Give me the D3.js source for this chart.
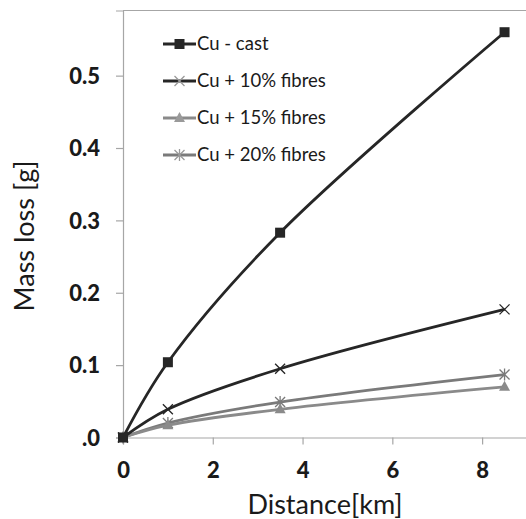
<!DOCTYPE html>
<html>
<head>
<meta charset="utf-8">
<script src="https://cdn.jsdelivr.net/npm/d3@7"></script>
<style>
body { margin: 0; background: #fff; }
text { font-family: Lato, "Open Sans", sans-serif; }
</style>
</head>
<body>
<script>
var w = 526;
var h = 519;

// distances [km]
var distance = [0, 1, 3.5, 8.5];

// mass loss [g] for each material
var seriesNames = ["Cu - cast", "Cu + 10% fibres", "Cu + 15% fibres", "Cu + 20% fibres"];
var cuCast = [0, 0.104, 0.283, 0.560];
var cu10 = [0, 0.039, 0.095, 0.177];
var cu15 = [0, 0.017, 0.039, 0.070];
var cu20 = [0, 0.020, 0.049, 0.087];

var xTicks = [0, 2, 4, 6, 8];
var yTicks = [0, 0.1, 0.2, 0.3, 0.4, 0.5];

var colors = ["#262626", "#262626", "#8a8a8a", "#7a7a7a"];
var markers = ["square", "cross", "triangle", "star"];

var svg = d3.select("body")
    .append("svg")
    .attr("width", w)
    .attr("height", h);

var x = d3.scaleLinear().domain([0, 9]).range([123, 527]);
var y = d3.scaleLinear().domain([0, 0.59]).range([437.5, 10.5]);

// plot frame
svg.append("path")
    .attr("d", "M" + x(0) + "," + y(0.59) + "H" + x(9) + "V" + y(0))
    .attr("fill", "none")
    .attr("stroke", "#a6a6a6")
    .attr("stroke-width", 1.2);

var yAxis = svg.append("g")
    .attr("transform", "translate(" + x(0) + ",0)")
    .call(d3.axisLeft(y).tickValues(yTicks).tickSize(7).tickPadding(16)
        .tickFormat(function(d){ return d === 0 ? ".0" : d3.format(".1f")(d); }));

var xAxis = svg.append("g")
    .attr("transform", "translate(0," + y(0) + ")")
    .call(d3.axisBottom(x).tickValues(xTicks).tickSize(7).tickPadding(18).tickFormat(d3.format("d")));

[xAxis, yAxis].forEach(function(g){
    g.select(".domain").attr("stroke", "#a6a6a6").attr("stroke-width", 1.2);
    g.selectAll(".tick line").attr("stroke", "#a6a6a6").attr("stroke-width", 1.2);
    g.selectAll(".tick text")
        .attr("fill", "#1a1a1a")
        .style("font-size", "22px")
        .style("font-weight", "900");
});
yAxis.selectAll(".tick text").attr("dy", "0.35em");

// axis titles
svg.append("text")
    .attr("x", 325)
    .attr("y", 514)
    .attr("text-anchor", "middle")
    .attr("fill", "#1a1a1a")
    .style("font-size", "27px")
    .text("Distance[km]");

svg.append("text")
    .attr("transform", "translate(34,236) rotate(-90)")
    .attr("text-anchor", "middle")
    .attr("fill", "#1a1a1a")
    .style("font-size", "27px")
    .text("Mass loss [g]");

var allSeries = [cuCast, cu10, cu15, cu20];

var line = d3.line()
    .x(function(d, i){ return x(distance[i]); })
    .y(function(d){ return y(d); })
    .curve(d3.curveCatmullRom.alpha(0.5));

function drawMarker(g, type, cx, cy, color) {
    if (type === "square") {
        g.append("rect").attr("x", cx - 5).attr("y", cy - 5).attr("width", 10).attr("height", 10)
            .attr("fill", color);
    } else if (type === "cross") {
        g.append("path").attr("d", "M" + (cx-5) + "," + (cy-5) + "L" + (cx+5) + "," + (cy+5) +
            "M" + (cx-5) + "," + (cy+5) + "L" + (cx+5) + "," + (cy-5))
            .attr("stroke", color).attr("stroke-width", 1.3);
    } else if (type === "triangle") {
        g.append("path").attr("d", "M" + cx + "," + (cy-6) + "L" + (cx+5.5) + "," + (cy+4) + "L" + (cx-5.5) + "," + (cy+4) + "Z")
            .attr("fill", color);
    } else {
        g.append("path").attr("d", "M" + (cx-5) + "," + (cy-5) + "L" + (cx+5) + "," + (cy+5) +
            "M" + (cx-5) + "," + (cy+5) + "L" + (cx+5) + "," + (cy-5) +
            "M" + cx + "," + (cy-6) + "L" + cx + "," + (cy+6))
            .attr("stroke", color).attr("stroke-width", 1.3);
    }
}

// draw from back to front
[3, 2, 1, 0].forEach(function(s){
    var g = svg.append("g");
    g.append("path")
        .attr("d", line(allSeries[s]))
        .attr("fill", "none")
        .attr("stroke", colors[s])
        .attr("stroke-width", 2.8);
    allSeries[s].forEach(function(v, i){
        drawMarker(g, markers[s], x(distance[i]), y(v), colors[s]);
    });
});

// legend
var legend = svg.append("g");
seriesNames.forEach(function(name, s){
    var ly = 44 + s * 37;
    legend.append("line")
        .attr("x1", 163).attr("x2", 196)
        .attr("y1", ly).attr("y2", ly)
        .attr("stroke", colors[s]).attr("stroke-width", 2.8);
    drawMarker(legend, markers[s], 179.5, ly, s === 0 ? colors[s] : "#9a9a9a");
    legend.append("text")
        .attr("x", 197)
        .attr("y", ly)
        .attr("dy", "0.35em")
        .attr("fill", "#1a1a1a")
        .style("font-size", "18.5px")
        .text(name);
});
</script>
</body>
</html>
